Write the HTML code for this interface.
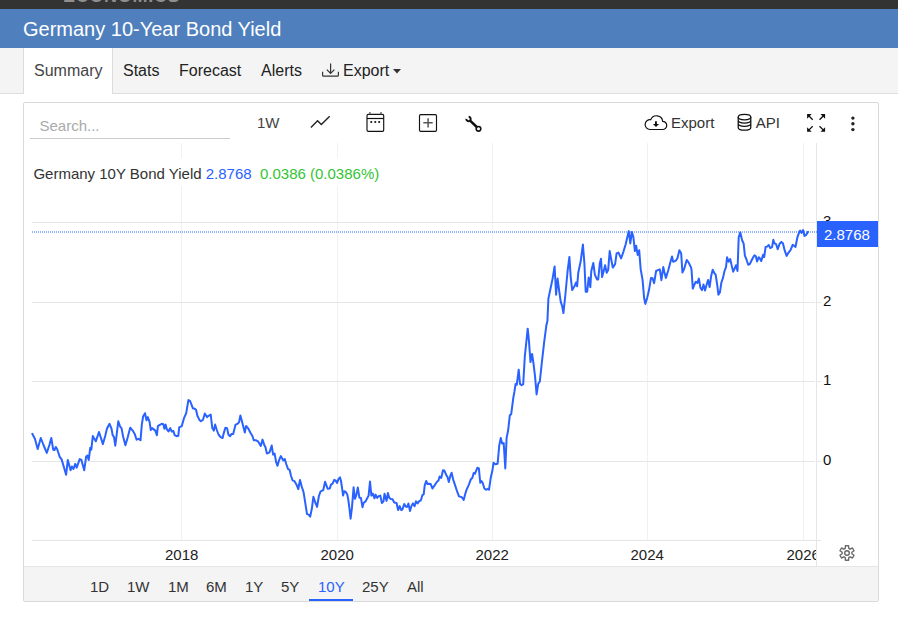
<!DOCTYPE html>
<html><head><meta charset="utf-8">
<style>
*{box-sizing:border-box;margin:0;padding:0}
html,body{width:898px;height:620px;overflow:hidden;background:#fff;font-family:"Liberation Sans",sans-serif;color:#333}
.abs{position:absolute}
#topbar{left:0;top:0;width:898px;height:9px;background:#333;overflow:hidden}
#topbar span{position:absolute;left:63px;top:-12.7px;font-size:18px;line-height:18px;font-weight:bold;color:#8f8f8f;letter-spacing:0.7px}
#hdr{left:0;top:9px;width:898px;height:39px;background:#4f80bd}
#hdr span{position:absolute;left:23px;top:8px;font-size:20px;color:#fff;line-height:24px}
#tabs{left:0;top:48px;width:898px;height:46px;background:#f4f4f4;border-bottom:1px solid #ddd}
.tab{position:absolute;top:0;height:46px;font-size:16px;line-height:46px;color:#222}
#tsum{left:23px;width:90px;background:#fff;border-left:1px solid #ddd;border-right:1px solid #ddd;height:46px;padding-left:10px;color:#444}
#box{left:23px;top:102px;width:856px;height:500px;border:1px solid #d9d9d9;border-radius:2px;background:#fff}
.t15{font-size:15px;line-height:18px;position:absolute;white-space:nowrap}
#search{left:30px;top:112px;width:200px;height:27px;border-bottom:1px solid #ccc}
#search span{position:absolute;left:9.5px;top:5px;font-size:15px;color:#aaa}
#range{left:24px;top:566px;width:854px;height:35px;background:#f4f4f4;border-radius:0 0 2px 2px;border-top:1px solid #e6e6e6}
.rb{position:absolute;top:11px;font-size:15px;line-height:18px;color:#333}
</style></head><body>
<div id="topbar" class="abs"><span>ECONOMICS</span></div>
<div id="hdr" class="abs"><span>Germany 10-Year Bond Yield</span></div>
<div id="tabs" class="abs">
  <div id="tsum" class="tab">Summary</div>
  <div class="tab" style="left:123px">Stats</div>
  <div class="tab" style="left:179px">Forecast</div>
  <div class="tab" style="left:261px">Alerts</div>
  <div class="tab" style="left:321px;width:82px">
    <svg class="abs" style="left:0;top:14px" width="20" height="18" viewBox="0 0 20 18"><path d="M9.6 1.4V11.4M5.8 7.6L9.6 11.4L13.4 7.6M1.6 9.7V13.2Q1.6 14.2 2.6 14.2H16.4Q17.4 14.2 17.4 13.2V9.7" fill="none" stroke="#333" stroke-width="1.2"/></svg>
    <span class="abs" style="left:22px;top:0">Export</span>
    <svg class="abs" style="left:71.6px;top:20.5px" width="8" height="5" viewBox="0 0 8 5"><path d="M0 0h8L4 4.5z" fill="#333"/></svg>
  </div>
</div>
<div id="box" class="abs"></div>
<div id="search" class="abs"><span>Search...</span></div>

<!-- toolbar -->
<div class="t15" style="left:257px;top:114px;color:#444">1W</div>
<svg class="abs" style="left:0;top:0" width="898" height="620" viewBox="0 0 898 620">
  <!-- line icon -->
  <path d="M310.9 127.5L317.6 120.8L321.3 124.5L329.7 116.2" fill="none" stroke="#222" stroke-width="1.4"/>
  <!-- calendar -->
  <rect x="367" y="114.3" width="16.7" height="17.1" rx="1.3" fill="none" stroke="#111" stroke-width="1.15"/>
  <path d="M367 118.5h16.7" stroke="#111" stroke-width="1.2"/>
  <path d="M369.9 112v2.5M381 112v2.5" stroke="#555" stroke-width="1.3"/>
  <rect x="370.4" y="121.1" width="1.8" height="1.8" fill="#111"/><rect x="374.4" y="121.1" width="1.8" height="1.8" fill="#111"/><rect x="378.3" y="121.1" width="1.8" height="1.8" fill="#111"/>
  <!-- plus box -->
  <rect x="419.5" y="114.6" width="17" height="16.8" rx="1.3" fill="none" stroke="#111" stroke-width="1.15"/>
  <path d="M428.1 118.2V127.6M423.3 122.8H432.7" stroke="#555" stroke-width="1.5"/>
  <!-- wrench -->
  <path d="M468.69 116.81A2.2 2.2 0 1 1 466.31 118.81" fill="none" stroke="#111" stroke-width="1.9"/>
  <path d="M469.8 120.4L476.8 127" stroke="#111" stroke-width="2.5"/>
  <circle cx="478.5" cy="128.8" r="2.3" fill="#fff" stroke="#111" stroke-width="1.6"/>
  <!-- cloud -->
  <path d="M650 129.5H662.6A4.1 4.1 0 0 0 662.66 121.3A6.2 6.2 0 0 0 650.72 119.75A4.9 4.9 0 1 0 650 129.5Z" fill="none" stroke="#111" stroke-width="1.2"/>
  <path d="M655.95 121.2v3.6" stroke="#111" stroke-width="1.9"/>
  <path d="M652.9 123.9h6.2l-3.1 3.1z" fill="#111"/>
  <!-- db -->
  <ellipse cx="744.5" cy="117.05" rx="6.3" ry="2.75" fill="none" stroke="#111" stroke-width="1.25"/>
  <path d="M738.2 117.05V127.5a6.3 2.75 0 0 0 12.6 0V117.05M738.2 120.3a6.3 2.75 0 0 0 12.6 0M738.2 123.55a6.3 2.75 0 0 0 12.6 0" fill="none" stroke="#111" stroke-width="1.25"/>
  <!-- fullscreen -->
  <path d="M807.1 114.1h4.6l-4.6 4.6zM825.1 114.1h-4.6l4.6 4.6zM807.1 131.8h4.6l-4.6-4.6zM825.1 131.8h-4.6l4.6-4.6z" fill="#111"/>
  <path d="M808.5 115.5l4.2 4.2M823.7 115.5l-4.2 4.2M808.5 130.4l4.2-4.2M823.7 130.4l-4.2-4.2" stroke="#111" stroke-width="1.3"/>
  <!-- kebab -->
  <circle cx="852.9" cy="118.1" r="1.7" fill="#222"/><circle cx="852.9" cy="123.8" r="1.7" fill="#222"/><circle cx="852.9" cy="129.6" r="1.7" fill="#222"/>
</svg>
<div class="t15" style="left:671px;top:114px;color:#333">Export</div>
<div class="t15" style="left:755.8px;top:114px;color:#333">API</div>

<!-- chart -->
<svg class="abs" style="left:0;top:0" width="898" height="620" viewBox="0 0 898 620">
  <g stroke="#ecf2f5" stroke-width="1">
    <path d="M181.5 143V540M337.5 143V540M492.5 143V540M647.5 143V540M803.5 143V540"/>
  </g>
  <g stroke="#e6e6e6" stroke-width="1">
    <path d="M32 222.5H815M32 302.5H815M32 381.5H815M32 461.5H815"/>
    <path d="M32 540.5H821"/>
    <path d="M816.5 143V566"/>
    <path d="M816 222.5h5M816 302.5h5M816 381.5h5M816 461.5h5"/>
  </g>
  <rect x="32" y="158" width="360" height="28" fill="#fff"/>
  <line x1="32" y1="232" x2="817" y2="232" stroke="#2962ff" stroke-width="1" stroke-dasharray="1 1"/>
  <polyline points="32.3,433.8 34.9,438.7 37.7,449.0 40.8,438.0 43.5,445.0 46.8,452.9 49.4,445.0 51.3,438.0 53.2,449.7 54.5,450.0 55.8,447.0 57.1,449.0 59.7,456.8 61.6,459.4 63.5,465.8 66.1,474.8 67.8,460.0 70.6,470.3 71.9,466.5 73.5,469.0 75.2,463.9 76.7,467.7 79.7,459.1 81.4,460.0 84.2,470.3 86.1,456.8 87.4,455.5 88.7,460.0 90.3,447.7 91.3,449.7 92.8,436.1 95.8,441.3 99.0,432.0 102.9,444.1 105.2,436.0 106.9,428.7 109.5,423.8 111.5,428.7 112.7,435.2 114.0,437.1 115.3,445.7 116.9,432.6 118.3,421.2 120.2,426.8 121.5,428.1 123.1,436.5 125.4,445.2 127.6,437.7 130.2,427.7 132.7,430.6 134.7,433.9 136.6,439.7 138.5,438.8 140.5,440.3 141.8,424.8 143.1,416.5 145.0,413.2 146.5,420.3 147.8,417.1 149.5,421.6 150.8,430.0 152.1,428.1 153.8,429.4 155.3,430.6 156.9,435.2 157.9,426.1 159.8,424.8 161.8,423.8 163.3,424.2 164.4,428.7 165.6,424.6 166.9,429.4 168.5,431.5 170.2,428.1 171.8,431.5 173.4,431.0 174.7,435.2 176.6,436.2 178.3,435.8 179.2,427.4 181.8,426.1 183.9,418.4 186.2,413.2 188.4,400.1 190.1,401.0 191.6,404.8 192.9,408.3 194.8,408.7 196.1,410.0 197.4,415.8 199.4,419.9 200.9,421.2 203.0,419.7 204.8,413.5 207.1,417.1 208.6,415.8 210.7,414.5 212.3,428.1 213.8,430.6 215.1,424.6 216.8,430.0 218.5,434.5 220.6,437.1 222.6,438.0 223.9,432.6 225.4,427.7 227.1,428.1 228.4,434.5 230.1,436.2 231.6,433.9 233.2,433.9 235.5,424.8 238.1,423.3 239.1,422.0 240.4,415.5 242.2,422.3 244.8,432.6 246.1,425.9 248.4,428.7 250.7,433.2 252.3,435.8 253.8,440.3 256.1,440.3 258.1,441.4 260.8,445.9 262.5,439.6 264.4,445.2 265.5,447.3 266.9,453.6 269.5,452.4 271.7,445.5 273.1,454.6 274.6,453.6 276.1,461.9 277.5,465.8 279.0,460.4 280.8,456.1 283.3,460.4 284.8,459.0 286.2,464.0 288.1,469.1 289.6,469.8 291.0,475.7 292.5,480.3 294.5,481.2 296.4,484.4 298.3,489.0 300.0,480.0 301.7,486.5 303.6,492.3 305.1,501.8 307.0,514.1 308.7,514.6 310.2,516.6 311.9,508.3 313.4,496.7 315.3,502.5 317.1,506.9 318.9,496.0 320.6,491.3 323.2,490.2 325.1,481.8 327.6,488.7 329.8,488.4 331.0,484.6 332.6,483.6 334.2,479.9 335.5,480.4 337.1,482.9 338.6,478.9 340.0,477.3 341.0,481.0 342.1,488.3 343.1,495.6 344.2,491.2 345.7,492.0 347.3,494.6 348.3,499.8 349.4,508.2 350.6,518.7 352.0,507.2 353.6,487.3 354.9,498.8 356.2,495.6 357.8,487.5 359.4,497.7 360.9,497.9 362.5,507.2 363.5,503.0 365.6,501.4 367.2,498.3 368.6,495.6 370.0,481.5 371.4,495.6 372.8,493.5 374.5,498.3 375.6,494.6 377.2,497.9 378.7,496.2 380.3,495.6 381.9,503.0 383.5,501.4 384.5,493.8 386.6,500.9 387.9,493.0 389.2,497.7 390.8,499.0 392.7,499.3 394.2,502.5 396.6,503.0 398.1,510.1 399.7,506.1 401.3,510.1 402.5,509.3 404.2,504.0 405.7,506.6 407.0,507.0 408.4,503.5 410.0,511.1 411.3,506.4 412.9,503.4 414.6,506.2 416.0,501.3 417.6,503.4 419.2,501.1 420.9,500.3 422.3,495.4 423.7,494.3 424.7,485.4 426.2,481.0 427.5,484.1 429.3,483.8 430.7,484.1 432.5,488.5 434.6,485.4 437.0,481.7 438.5,480.4 439.6,476.5 441.2,477.9 443.0,470.2 444.3,470.5 446.4,475.4 447.5,477.0 448.8,482.0 450.3,476.0 451.6,472.8 453.2,479.6 455.3,485.9 457.2,491.7 459.0,496.4 461.1,496.9 462.7,498.2 463.7,499.9 465.0,494.8 466.6,489.6 468.9,484.6 470.8,479.3 472.3,477.9 473.7,473.0 475.0,473.7 477.3,467.8 478.9,468.4 479.6,476.0 480.3,482.8 481.5,481.0 482.7,483.0 484.5,488.7 486.3,489.8 487.9,488.7 489.0,489.8 490.8,477.4 492.4,470.6 493.5,462.7 495.3,464.3 497.6,463.8 499.2,445.8 500.8,437.9 502.1,443.5 503.7,443.1 505.3,468.4 506.6,437.9 508.2,430.0 509.8,415.3 511.2,414.2 513.4,397.2 514.4,391.9 515.6,383.9 516.8,384.7 518.7,369.7 520.0,383.9 521.6,385.2 523.2,384.2 524.8,356.5 526.5,340.3 527.7,328.7 528.9,340.3 530.5,362.1 532.1,354.0 533.4,362.9 535.0,375.8 536.6,394.4 538.2,383.9 539.8,381.5 541.8,362.9 544.2,341.9 546.3,325.8 547.4,321.0 548.4,298.6 550.7,287.8 552.6,278.6 554.6,266.4 556.1,294.7 557.6,278.6 559.2,290.9 560.7,301.6 562.2,306.2 563.4,313.1 565.3,295.5 567.6,271.0 569.4,256.9 570.7,277.1 572.2,290.1 574.5,286.3 576.0,282.5 577.1,286.3 578.3,272.5 580.6,261.8 582.9,244.6 584.4,263.3 585.7,291.7 587.2,291.7 588.7,277.4 590.3,287.1 591.3,271.0 593.3,263.0 594.9,274.8 597.0,279.4 598.2,279.4 599.8,263.3 601.0,258.7 602.1,277.1 604.1,269.4 605.1,265.2 606.7,272.8 608.2,269.8 609.7,251.1 610.8,257.2 612.8,267.6 615.1,264.1 616.6,253.4 618.5,252.6 621.1,258.4 623.4,251.8 625.7,244.2 627.3,237.3 628.8,231.1 630.3,243.4 631.9,231.9 633.4,237.3 634.9,251.1 636.1,245.7 637.7,254.9 639.2,250.3 640.7,269.4 642.6,280.2 644.1,297.8 645.3,303.9 647.2,297.8 649.0,290.1 651.0,277.9 652.5,278.3 654.1,283.2 656.1,271.0 657.9,270.2 659.8,269.4 661.4,280.2 663.3,267.1 664.3,271.7 665.9,277.9 668.3,270.2 669.9,264.1 672.0,256.4 673.2,261.8 676.0,260.6 677.5,258.0 679.4,250.3 681.2,253.4 682.4,272.5 684.0,269.4 686.7,259.9 688.6,262.5 690.9,267.1 691.5,269.4 692.8,288.6 694.3,284.8 695.8,281.7 697.4,282.9 698.9,278.6 700.4,287.8 702.0,290.1 703.5,284.5 705.0,290.6 706.6,284.8 708.1,279.9 709.6,287.1 711.1,276.3 712.7,269.8 714.2,272.8 715.7,274.8 717.3,285.5 718.4,294.7 719.9,292.4 721.4,282.5 723.0,277.9 724.5,271.0 726.0,267.1 727.1,257.2 728.6,261.8 730.2,259.0 731.7,265.6 733.2,271.7 734.4,269.1 736.0,265.2 737.5,271.0 738.7,237.3 740.3,232.4 742.1,240.3 743.6,243.4 744.9,255.7 746.7,260.2 748.2,264.8 749.8,264.1 751.3,261.0 752.8,258.0 754.4,255.3 755.9,256.4 757.1,261.5 758.7,257.2 760.2,259.0 761.2,261.1 763.1,254.7 764.2,257.1 765.6,247.0 767.1,246.6 768.7,245.0 770.3,248.1 772.1,247.0 773.3,239.8 774.5,243.4 776.1,244.2 777.7,249.2 779.8,243.4 781.4,241.9 783.0,243.4 784.6,250.2 786.6,255.9 788.2,253.1 790.5,250.2 792.7,244.8 795.5,247.0 797.3,237.7 799.5,231.3 800.3,230.6 801.5,232.9 803.1,230.1 804.5,236.0 806.1,234.9 808.0,231.9" fill="none" stroke="#2962ff" stroke-width="2" stroke-linejoin="round" stroke-linecap="round"/>
</svg>
<div class="t15" style="left:33.4px;top:165px"><span style="color:#333">Germany 10Y Bond Yield</span> <span style="color:#2962ff">2.8768</span>&nbsp; <span style="color:#33c433">0.0386 (0.0386%)</span></div>

<!-- y labels -->
<div class="t15" style="left:823px;top:212px;color:#111">3</div>
<div class="t15" style="left:823px;top:292px;color:#111">2</div>
<div class="t15" style="left:823px;top:371px;color:#111">1</div>
<div class="t15" style="left:823px;top:451px;color:#111">0</div>
<div class="abs" style="left:817px;top:221px;width:61px;height:26px;background:#2962ff"></div>
<div class="t15" style="left:824px;top:225.8px;color:#fff">2.8768</div>

<!-- x labels -->
<div class="abs" style="left:32px;top:541px;width:784px;height:24px;overflow:hidden">
<div class="t15" style="left:133px;top:5px;color:#222">2018</div>
<div class="t15" style="left:288.5px;top:5px;color:#222">2020</div>
<div class="t15" style="left:443.5px;top:5px;color:#222">2022</div>
<div class="t15" style="left:598.5px;top:5px;color:#222">2024</div>
<div class="t15" style="left:754.5px;top:5px;color:#222">2026</div>
</div>
<!-- gear -->
<svg class="abs" style="left:838px;top:543.8px" width="18" height="18" viewBox="0 0 18 18">
  <path d="M7.24 4.43 L7.40 1.78 L10.60 1.78 L10.76 4.43 L12.08 5.19 L14.46 4.00 L16.06 6.77 L13.84 8.23 L13.84 9.77 L16.06 11.23 L14.46 14.00 L12.08 12.81 L10.76 13.57 L10.60 16.22 L7.40 16.22 L7.24 13.57 L5.92 12.81 L3.54 14.00 L1.94 11.23 L4.16 9.77 L4.16 8.23 L1.94 6.77 L3.54 4.00 L5.92 5.19Z" fill="none" stroke="#6a6a6a" stroke-width="1.4" stroke-linejoin="round"/>
  <circle cx="9" cy="9" r="2.3" fill="none" stroke="#6a6a6a" stroke-width="1.4"/>
</svg>

<!-- range bar -->
<div id="range" class="abs">
  <span class="rb" style="left:66px">1D</span>
  <span class="rb" style="left:103px">1W</span>
  <span class="rb" style="left:144px">1M</span>
  <span class="rb" style="left:182px">6M</span>
  <span class="rb" style="left:221px">1Y</span>
  <span class="rb" style="left:257px">5Y</span>
  <span class="rb" style="left:294px;color:#2962ff">10Y</span>
  <span class="rb" style="left:338px">25Y</span>
  <span class="rb" style="left:383px">All</span>
  <div class="abs" style="left:285px;top:32px;width:44px;height:2px;background:#2962ff"></div>
</div>
</body></html>
